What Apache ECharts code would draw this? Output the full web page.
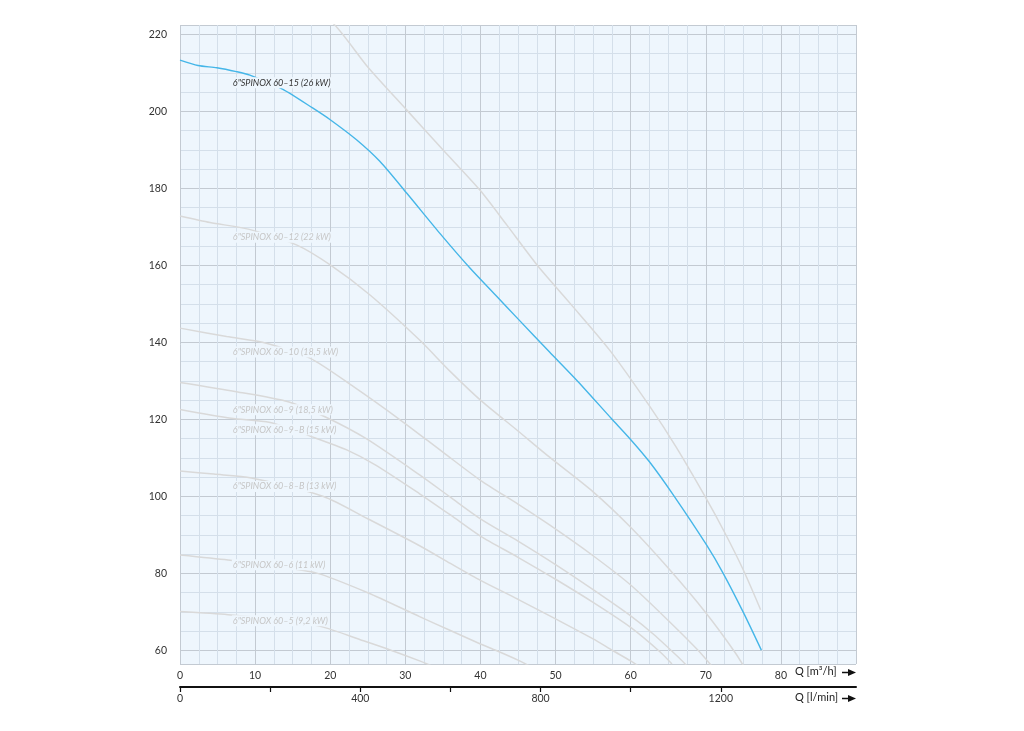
<!DOCTYPE html>
<html><head><meta charset="utf-8">
<script src="https://cdn.jsdelivr.net/npm/echarts@6/dist/echarts.min.js"></script>
<style>html,body{margin:0;padding:0;background:#fff}#c{width:1024px;height:731px}</style>
</head><body><div id="c"></div>
<script>
// Axis tick labels
const xTickLabels = [0, 10, 20, 30, 40, 50, 60, 70, 80];          // Q [m3/h]
const lminTickLabels = [0, 400, 800, 1200];                         // Q [l/min]
const lminTickMarks = [0, 200, 400, 600, 800, 1000, 1200];
const yTickLabels = [60, 80, 100, 120, 140, 160, 180, 200, 220];    // head

// Curve names
const name15 = '6"SPINOX 60\u201315 (26 kW)';
const name12 = '6"SPINOX 60\u201312 (22 kW)';
const name10 = '6"SPINOX 60\u201310 (18,5 kW)';
const name9 = '6"SPINOX 60\u20139 (18,5 kW)';
const name9B = '6"SPINOX 60\u20139\u2013B (15 kW)';
const name8B = '6"SPINOX 60\u20138\u2013B (13 kW)';
const name6 = '6"SPINOX 60\u20136 (11 kW)';
const name5 = '6"SPINOX 60\u20135 (9,2 kW)';

// Curve data [Q m3/h, H m]
const curve15 = [[0,213.3],[2.4,211.9],[4.9,211.3],[7.5,210.3],[9.3,209.4],[13.7,205.7],[17.7,200.8],[20,197.8],[23.5,192.6],[26.6,187],[30.2,178.7],[34.6,168.3],[38.6,159.3],[42,152.3],[45,146.1],[49.2,137.5],[53,129.8],[57.4,120.3],[59.9,115],[62.5,109],[65.6,100.6],[70.1,87.4],[72.3,80.1],[75,69.9],[77.4,60.1]];
const curveTop = [[15,231.5],[20.6,222.4],[25,211.5],[30.2,200.3],[35,190],[39.9,179.6],[43.5,170.5],[47.7,159.7],[52,150],[57.2,138],[62.5,123.5],[66,113],[69.9,100],[72.5,90.7],[75,80.9],[77.3,70.6]];
const curve12 = [[0,172.8],[4,171.1],[9.1,169.4],[15.5,165.3],[20,160.1],[25.3,152.3],[31.9,140.6],[36,132.4],[40,125],[45,117],[49.2,110.2],[55,101.2],[60,92],[65,81.4],[70,69.8],[73.9,59.5],[75.5,54.5]];
const curve10 = [[0,143.7],[6.2,141.5],[11.5,139.8],[17.3,135.9],[23.1,128.5],[29.3,119.9],[35,111.5],[40,104.2],[45,98],[49.2,92.6],[55,84.6],[60,77],[65,67.8],[69,60],[71,55.5]];
const curve9 = [[0,129.6],[7.5,127.2],[14.4,124.6],[19.3,120.7],[24.8,115],[31.9,105.6],[36,99.8],[40,94.2],[45,88.4],[50,82.3],[55,75.8],[60,69],[63,64.3],[66.5,58],[67.5,56]];
const curve9B = [[0,122.6],[6.8,120.3],[12,119.2],[17.7,115.4],[22.2,112.1],[26,108.2],[31.9,100.7],[36,95.2],[40,89.7],[45,84.2],[50,78.5],[55,72.5],[60,66],[64,59.5],[65.5,56.5]];
const curve8B = [[0,106.6],[4.5,105.8],[9.5,104.8],[19.1,100],[25,94.2],[31.9,87.2],[36,82.6],[40,78.2],[45,73.3],[50,68.2],[55,63],[57.6,60],[60,57.3],[61,56]];
const curve6 = [[0,84.8],[6.4,83.5],[12,82],[18.2,80.1],[25,75],[31.9,68.8],[36,65.2],[40,61.7],[42.1,60],[45,57.5],[46.5,56]];
const curve5 = [[0,70.1],[6.4,69.3],[12,68.2],[18.8,66.2],[24,62.8],[27.9,60.2],[31.9,57.3],[33.5,56]];

// Label anchor points [Q, H]
const label15 = [6.9, 207.4];
const label12 = [6.9, 167.3];
const label10 = [6.9, 137.5];
const label9 = [6.9, 122.5];
const label9B = [6.9, 117.3];
const label8B = [6.9, 102.6];
const label6 = [6.9, 82.25];
const label5 = [6.9, 67.7];

const BG = '#eef6fd';
const LABEL_FONT = "Lato, 'Open Sans', sans-serif";
const TICK_FONT = "Lato, 'Open Sans', sans-serif";
const plainNum = v => String(v);

function curveLabel(name, lab, color, z) {
  return {
    symbol: 'circle', symbolSize: 0, silent: true, z: z,
    data: [{ coord: lab }],
    label: { show: true, position: 'right', distance: 0, formatter: name,
      color: color, fontStyle: 'italic', fontSize: 9, fontFamily: LABEL_FONT,
      backgroundColor: BG, padding: [1, 1] }
  };
}

function grayCurve(data, name, lab) {
  const s = {
    type: 'line', data: data, showSymbol: false, smooth: 0.25,
    lineStyle: { color: '#d9d9d9', width: 1.5 }, z: 2, silent: true
  };
  if (name) s.markPoint = curveLabel(name, lab, '#c6c6c6', 5);
  return s;
}

const chart = echarts.init(document.getElementById('c'), null, { renderer: 'canvas' });
chart.setOption({
  animation: false,
  backgroundColor: '#fff',
  grid: { left: 180, right: 168, top: 25, bottom: 67, show: true, backgroundColor: BG, borderWidth: 0, containLabel: false },
  xAxis: [{
    type: 'value', min: 0, max: 90, interval: 10, position: 'bottom',
    axisLine: { show: false }, axisTick: { show: false },
    axisLabel: { customValues: xTickLabels, formatter: plainNum, margin: 6, color: '#333', fontSize: 10.5, fontFamily: TICK_FONT },
    splitLine: { show: true, lineStyle: { color: '#c3cad2', width: 1 } },
    minorTick: { show: false, splitNumber: 4 },
    minorSplitLine: { show: true, lineStyle: { color: '#d4dfea', width: 1 } }
  }, {
    type: 'value', min: 0, max: 1500, position: 'bottom', offset: 23,
    axisLine: { show: true, onZero: false, lineStyle: { color: '#111', width: 2 } },
    axisTick: { show: true, customValues: lminTickMarks, length: 5, lineStyle: { color: '#111', width: 1.2 } },
    axisLabel: { customValues: lminTickLabels, formatter: plainNum, margin: 6, color: '#333', fontSize: 10.5, fontFamily: TICK_FONT },
    splitLine: { show: false }
  }],
  yAxis: [{
    type: 'value', min: 56.5, max: 222.4, splitNumber: 8,
    axisLine: { show: false }, axisTick: { show: false },
    axisLabel: { customValues: yTickLabels, formatter: plainNum, margin: 13, color: '#333', fontSize: 10.5, fontFamily: TICK_FONT },
    splitLine: { show: true, lineStyle: { color: '#c3cad2', width: 1 } },
    minorTick: { show: false, splitNumber: 4 },
    minorSplitLine: { show: true, lineStyle: { color: '#d4dfea', width: 1 } }
  }],
  series: [
    grayCurve(curveTop, null, null),
    grayCurve(curve12, name12, label12),
    grayCurve(curve10, name10, label10),
    grayCurve(curve9, name9, label9),
    grayCurve(curve9B, name9B, label9B),
    grayCurve(curve8B, name8B, label8B),
    grayCurve(curve6, name6, label6),
    grayCurve(curve5, name5, label5),
    {
      type: 'line', data: curve15, showSymbol: false, smooth: 0.25,
      lineStyle: { color: '#45b6e8', width: 1.4 }, z: 4, silent: true,
      markPoint: curveLabel(name15, label15, '#333', 6)
    }
  ],
  graphic: [
    { type: 'text', left: 795, top: 666, style: { text: 'Q [m\u00b3/h]', fill: '#222', fontSize: 11, fontFamily: TICK_FONT } },
    { type: 'text', left: 795, top: 692, style: { text: 'Q [l/min]', fill: '#222', fontSize: 11, fontFamily: TICK_FONT } },
    { type: 'line', shape: { x1: 842, y1: 672.5, x2: 850, y2: 672.5 }, style: { stroke: '#111', lineWidth: 1.5 } },
    { type: 'polygon', shape: { points: [[848, 669], [856, 672.5], [848, 676]] }, style: { fill: '#111' } },
    { type: 'line', shape: { x1: 842, y1: 698.5, x2: 850, y2: 698.5 }, style: { stroke: '#111', lineWidth: 1.5 } },
    { type: 'polygon', shape: { points: [[848, 695], [856, 698.5], [848, 702]] }, style: { fill: '#111' } }
  ]
});
</script></body></html>
